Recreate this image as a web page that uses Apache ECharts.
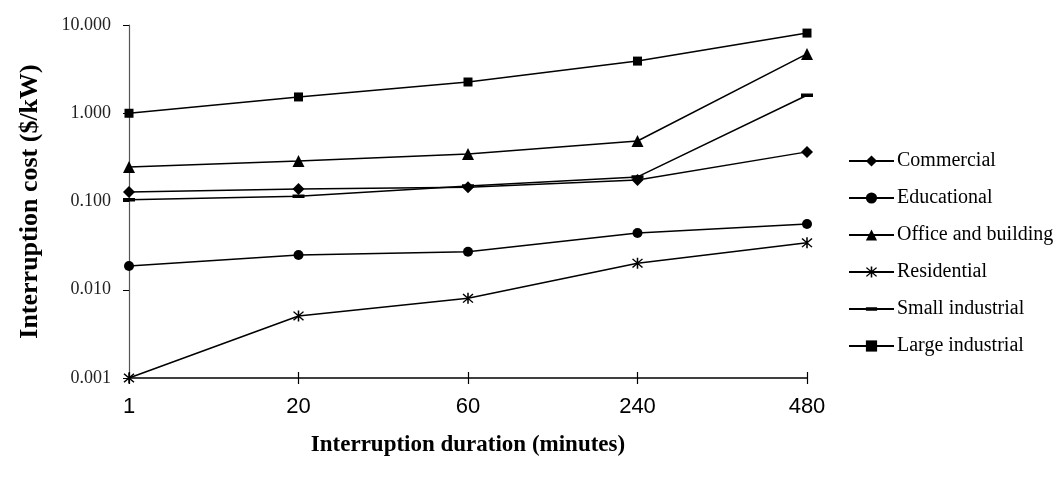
<!DOCTYPE html>
<html>
<head>
<meta charset="utf-8">
<script src="https://cdn.jsdelivr.net/npm/echarts@6/dist/echarts.min.js"></script>
<style>
  html, body { margin: 0; padding: 0; background: #fff; }
  #chart { width: 1058px; height: 492px; }
</style>
</head>
<body>
<div id="chart"></div>
<script>
// durations (minutes)
var durations = ["1", "20", "60", "240", "480"];

// interruption cost ($/kW)
var commercial = [0.128, 0.139, 0.145, 0.175, 0.365];
var educational = [0.0186, 0.0248, 0.027, 0.044, 0.0556];
var office = [0.246, 0.288, 0.345, 0.485, 4.7];
var residential = [0.001, 0.00505, 0.008, 0.02, 0.034];
var smallIndustrial = [0.105, 0.115, 0.15, 0.19, 1.6];
var largeIndustrial = [1.0, 1.53, 2.26, 3.9, 8.1];

var serif = "'Liberation Serif', 'DejaVu Serif', serif";

// asterisk marker: vertical bar plus two diagonals
var asterisk = "path://M-0.6,-5L0.6,-5L0.6,5L-0.6,5Z" +
  "M-4.3,-3.5L-3.5,-4.3L4.3,3.5L3.5,4.3Z" +
  "M3.5,-4.3L4.3,-3.5L-3.5,4.3L-4.3,3.5Z";
// flat dash marker, padded with empty points to a square box so the legend keeps it flat
var dash = "path://M0,4.25L12,4.25L12,7.75L0,7.75Z" +
  "M6,0L6,0Z M6,12L6,12Z";

function line(name, data, symbol, size) {
  return {
    name: name,
    type: "line",
    data: data,
    symbol: symbol,
    symbolSize: size,
    showAllSymbol: true,
    lineStyle: { color: "#000", width: 1.5 },
    itemStyle: { color: "#000" },
    emphasis: { disabled: true },
    animation: false
  };
}

var mychart = echarts.init(document.getElementById("chart"));
mychart.setOption({
  animation: false,
  grid: { left: 129, right: 251, top: 25, bottom: 114 },
  legend: {
    orient: "vertical",
    left: 843,
    top: 146,
    itemWidth: 45,
    itemHeight: 14,
    itemGap: 17,
    textStyle: { fontFamily: serif, fontSize: 20, color: "#000", padding: [0, 0, 0, -2] },
    data: ["Commercial", "Educational", "Office and building", "Residential",
      "Small industrial", "Large industrial"]
  },
  xAxis: [
    {
      type: "category",
      data: durations,
      boundaryGap: false,
      name: "Interruption duration (minutes)",
      nameLocation: "middle",
      nameGap: 56,
      nameTextStyle: { fontFamily: serif, fontSize: 23, fontWeight: "bold", color: "#000" },
      axisLine: { lineStyle: { color: "#000", width: 1.5 } },
      axisTick: { inside: false, length: 6, lineStyle: { color: "#000", width: 1.2 } },
      axisLabel: { fontFamily: "'Liberation Sans', Arial, sans-serif", fontSize: 22, color: "#000", margin: 18 },
      splitLine: { show: false }
    },
    {
      // mirrored ticks so they cross the axis line
      type: "category",
      data: durations,
      boundaryGap: false,
      position: "bottom",
      axisLine: { show: false },
      axisTick: { inside: true, length: 6, lineStyle: { color: "#000", width: 1.2 } },
      axisLabel: { show: false },
      splitLine: { show: false }
    }
  ],
  yAxis: {
    type: "log",
    logBase: 10,
    min: 0.001,
    max: 10,
    name: "Interruption cost ($/kW)",
    nameLocation: "middle",
    nameGap: 86,
    nameTextStyle: { fontFamily: serif, fontSize: 26, fontWeight: "bold", color: "#000" },
    axisLine: { show: true, lineStyle: { color: "#555", width: 1.2 } },
    axisTick: { show: true, length: 6, lineStyle: { color: "#000" } },
    axisLabel: {
      fontFamily: serif, fontSize: 18, color: "#222", margin: 18,
      formatter: function (v) { return v.toFixed(3); }
    },
    splitLine: { show: false },
    minorTick: { show: false }
  },
  series: [
    line("Commercial", commercial, "diamond", 12),
    line("Educational", educational, "circle", 10),
    line("Office and building", office, "triangle", 12),
    line("Residential", residential, asterisk, 11),
    line("Small industrial", smallIndustrial, dash, 12),
    line("Large industrial", largeIndustrial, "rect", 9)
  ]
});
</script>
</body>
</html>
